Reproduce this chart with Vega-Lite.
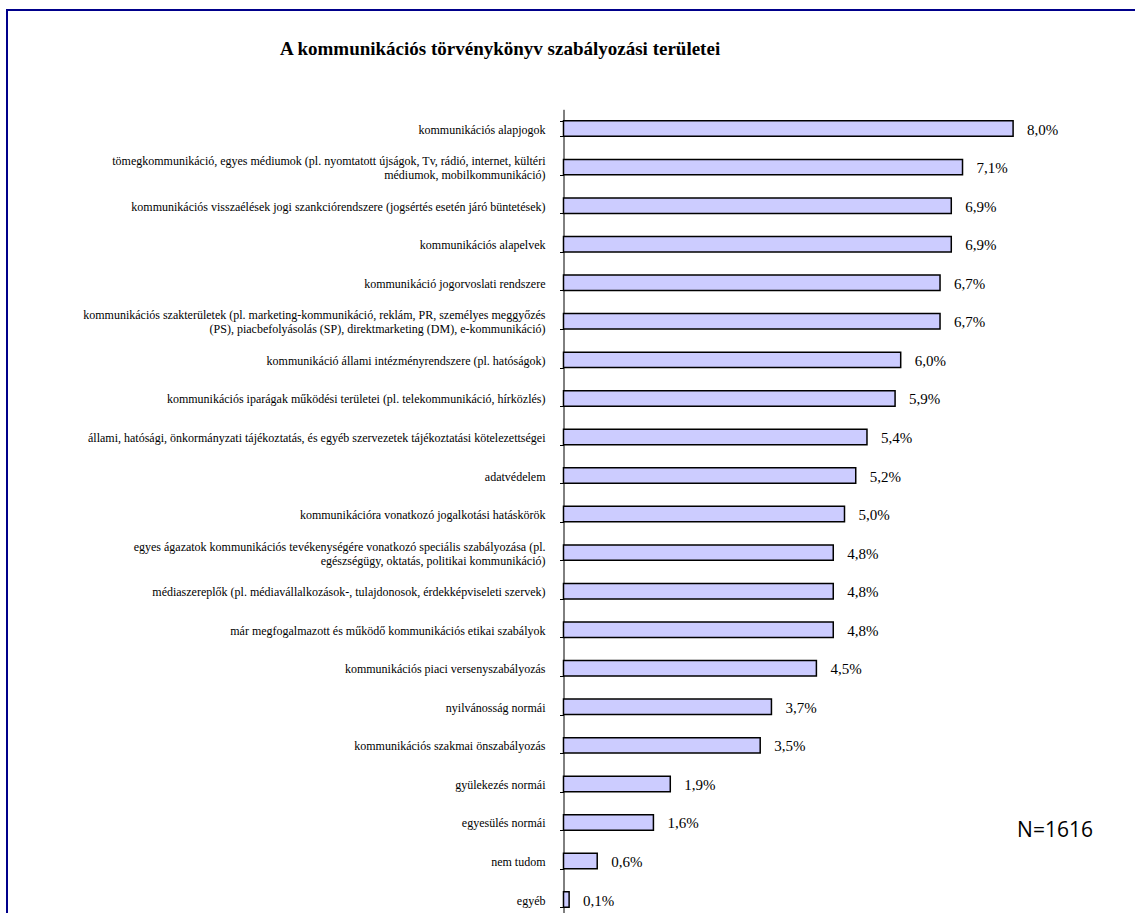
{
  "$schema": "https://vega.github.io/schema/vega-lite/v6.json",
  "width": 1134,
  "height": 913,
  "autosize": {"type": "none"},
  "padding": {"left": 7, "top": 10, "right": -6, "bottom": -10},
  "background": "white",
  "title": {
    "text": "A kommunikációs törvénykönyv szabályozási területei",
    "anchor": "start",
    "frame": "group",
    "dx": 273,
    "offset": -38,
    "dy": 26,
    "baseline": "alphabetic",
    "font": "Liberation Serif",
    "fontSize": 19,
    "fontWeight": "bold",
    "color": "#000000"
  },
  "config": {
    "view": {"stroke": "#00008B", "strokeWidth": 2},
    "locale": {"number": {"decimal": ",", "thousands": " ", "grouping": [3], "currency": ["", ""]}}
  },
  "data": {
    "values": [
      {"cat": "kommunikációs alapjogok", "v": 0.080},
      {"cat": "tömegkommunikáció, egyes médiumok (pl. nyomtatott újságok, Tv, rádió, internet, kültéri|médiumok, mobilkommunikáció)", "v": 0.071},
      {"cat": "kommunikációs visszaélések jogi szankciórendszere (jogsértés esetén járó büntetések)", "v": 0.069},
      {"cat": "kommunikációs alapelvek", "v": 0.069},
      {"cat": "kommunikáció jogorvoslati rendszere", "v": 0.067},
      {"cat": "kommunikációs szakterületek (pl. marketing-kommunikáció, reklám, PR,  személyes meggyőzés|(PS), piacbefolyásolás (SP),  direktmarketing (DM), e-kommunikáció)", "v": 0.067},
      {"cat": "kommunikáció állami intézményrendszere (pl. hatóságok)", "v": 0.060},
      {"cat": "kommunikációs iparágak működési területei (pl. telekommunikáció, hírközlés)", "v": 0.059},
      {"cat": "állami, hatósági, önkormányzati tájékoztatás, és egyéb szervezetek tájékoztatási kötelezettségei", "v": 0.054},
      {"cat": "adatvédelem", "v": 0.052},
      {"cat": "kommunikációra vonatkozó jogalkotási hatáskörök", "v": 0.050},
      {"cat": "egyes ágazatok kommunikációs tevékenységére vonatkozó speciális szabályozása (pl.|egészségügy, oktatás, politikai kommunikáció)", "v": 0.048},
      {"cat": "médiaszereplők (pl. médiavállalkozások-, tulajdonosok, érdekképviseleti szervek)", "v": 0.048},
      {"cat": "már megfogalmazott és működő kommunikációs etikai szabályok", "v": 0.048},
      {"cat": "kommunikációs piaci versenyszabályozás", "v": 0.045},
      {"cat": "nyilvánosság normái", "v": 0.037},
      {"cat": "kommunikációs szakmai önszabályozás", "v": 0.035},
      {"cat": "gyülekezés normái", "v": 0.019},
      {"cat": "egyesülés normái", "v": 0.016},
      {"cat": "nem tudom", "v": 0.006},
      {"cat": "egyéb", "v": 0.001}
    ]
  },
  "layer": [
    {
      "mark": {"type": "bar", "fill": "#CCCCFF", "stroke": "#000000", "strokeWidth": 1.5},
      "encoding": {
        "y": {
          "field": "cat",
          "type": "nominal",
          "sort": null,
          "scale": {"range": [99.3, 908.85], "paddingInner": 0.6, "paddingOuter": 0.3},
          "axis": {
            "orient": "left",
            "offset": -556.5,
            "title": null,
            "grid": false,
            "labels": false,
            "domainColor": "#000000",
            "domainWidth": 1,
            "tickColor": "#000000",
            "tickSize": 4,
            "tickBand": "extent"
          }
        },
        "x": {
          "field": "v",
          "type": "quantitative",
          "scale": {"domain": [-0.099021, 0.102758], "nice": false, "zero": false},
          "axis": null
        }
      }
    },
    {
      "mark": {
        "type": "text",
        "align": "right",
        "baseline": "middle",
        "dx": -18,
        "dy": {"expr": "indexof(datum.cat, '|') >= 0 ? -6 : 1"},
        "lineBreak": "|",
        "lineHeight": 14,
        "font": "Liberation Serif",
        "fontSize": 12,
        "color": "#000000"
      },
      "encoding": {
        "y": {"field": "cat", "type": "nominal", "sort": null},
        "x": {"datum": 0, "type": "quantitative"},
        "text": {"field": "cat"}
      }
    },
    {
      "mark": {"type": "text", "align": "left", "baseline": "middle", "dx": 14, "dy": 1, "font": "Liberation Serif", "fontSize": 15, "color": "#000000"},
      "encoding": {
        "y": {"field": "cat", "type": "nominal", "sort": null},
        "x": {"field": "v", "type": "quantitative"},
        "text": {"field": "v", "type": "quantitative", "format": ".1%"}
      }
    },
    {
      "data": {"values": [{"note": "N=1616", "pos": 0.087456, "row": "egyesülés normái"}]},
      "mark": {"type": "text", "align": "center", "baseline": "middle", "dy": 9, "font": "Open Sans", "fontSize": 21, "color": "#000000"},
      "encoding": {
        "y": {"field": "row", "type": "nominal", "sort": null},
        "x": {"field": "pos", "type": "quantitative"},
        "text": {"field": "note"}
      }
    }
  ]
}
